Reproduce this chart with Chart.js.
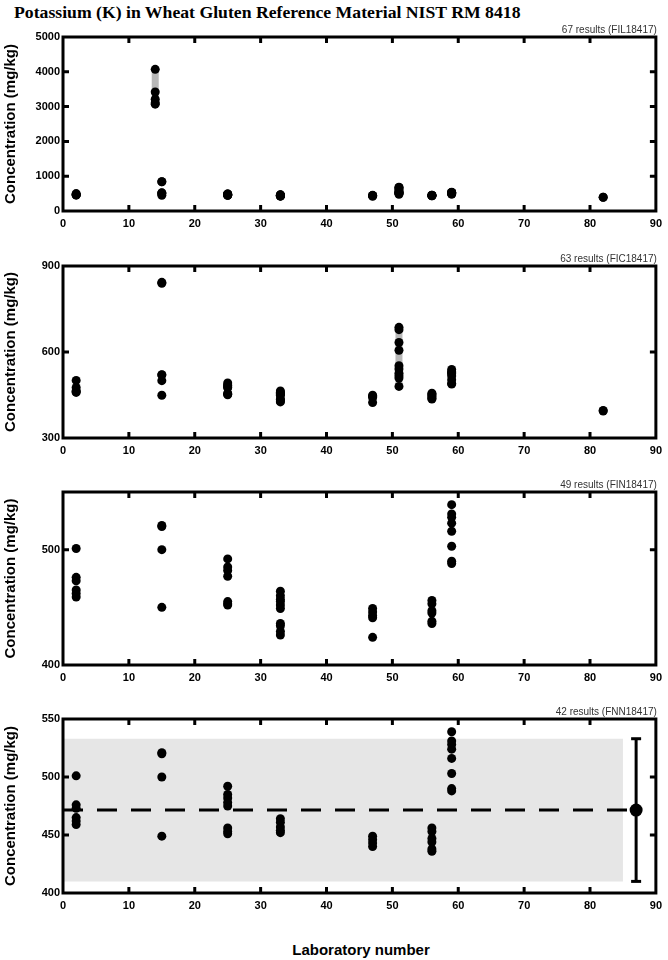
<!DOCTYPE html>
<html>
<head>
<meta charset="utf-8">
<script src="https://cdn.jsdelivr.net/npm/chart.js@4.4.1/dist/chart.umd.min.js"></script>
<style>
  body { margin: 0; background: #fff; }
  #page { position: relative; width: 668px; height: 960px; overflow: hidden; }
  canvas { position: absolute; left: 0; }
  .title { position: absolute; left: 14px; top: 2px; font: bold 17.7px "Liberation Serif", "Times New Roman", serif; color: #000; white-space: nowrap; }
  .xlabel { position: absolute; left: 63px; width: 596px; top: 941px; text-align: center; font: bold 15px "Liberation Sans", Arial, sans-serif; }
</style>
</head>
<body>
<div id="page">
  <div class="title">Potassium (K) in Wheat Gluten Reference Material NIST RM 8418</div>
  <canvas id="p1" width="668" height="232" style="top:7px"></canvas>
  <canvas id="p2" width="668" height="230" style="top:236px"></canvas>
  <canvas id="p3" width="668" height="231" style="top:462px"></canvas>
  <canvas id="p4" width="668" height="232" style="top:689px"></canvas>
  <div class="xlabel">Laboratory number</div>
</div>
<script>
// tick labels
const xTicks = [0, 10, 20, 30, 40, 50, 60, 70, 80, 90];
const yTicksFIL = [0, 1000, 2000, 3000, 4000, 5000];
const yTicksFIC = [300, 600, 900];
const yTicksFIN = [400, 500];
const yTicksFNN = [400, 450, 500, 550];

// results per laboratory (mg/kg)
const labsFIL = [2, 14, 15, 25, 33, 47, 51, 56, 59, 82];
const concFIL = [
  [501, 476, 465, 462, 459],
  [4070, 3420, 3210, 3110, 3070],
  [843, 840, 521, 520, 500, 449],
  [492, 485, 482, 478, 475, 456, 453, 451],
  [464, 460, 457, 455, 452, 449, 436, 434, 429, 426],
  [449, 446, 441, 424],
  [686, 678, 633, 606, 552, 541, 526, 517, 509, 480],
  [456, 453, 447, 444, 438, 436],
  [539, 531, 528, 524, 516, 503, 490, 488],
  [396, 394]
];

const labsFIC = [2, 15, 25, 33, 47, 51, 56, 59, 82];
const concFIC = [
  [501, 476, 465, 462, 459],
  [843, 840, 521, 520, 500, 449],
  [492, 485, 482, 478, 475, 456, 453, 451],
  [464, 460, 457, 455, 452, 449, 436, 434, 429, 426],
  [449, 446, 441, 424],
  [686, 678, 633, 606, 552, 541, 526, 517, 509, 480],
  [456, 453, 447, 444, 438, 436],
  [539, 531, 528, 524, 516, 503, 490, 488],
  [396, 394]
];

const labsFIN = [2, 15, 25, 33, 47, 56, 59];
const concFIN = [
  [501, 476, 473, 465, 462, 459],
  [521, 520, 500, 450],
  [492, 485, 482, 477, 455, 453, 452],
  [464, 460, 457, 455, 452, 449, 436, 434, 429, 426],
  [449, 446, 443, 441, 424],
  [456, 453, 447, 445, 438, 436],
  [539, 531, 528, 523, 516, 503, 490, 488]
];

const labsFNN = [2, 15, 25, 33, 47, 56, 59];
const concFNN = [
  [501, 476, 473, 465, 462, 459],
  [521, 520, 500, 449],
  [492, 485, 482, 478, 475, 456, 453, 451],
  [464, 461, 457, 454, 452],
  [449, 446, 443, 440],
  [456, 453, 447, 444, 438, 436],
  [539, 531, 528, 524, 516, 503, 490, 488]
];

// consensus value and interval (last panel)
const consensusMean = 471.5;
const consensusLow = 410;
const consensusHigh = 533;
const consensusLab = 87;
const bandStart = 0;
const bandEnd = 85;

Chart.defaults.font.family = '"Liberation Sans", Arial, sans-serif';
Chart.defaults.color = "#000";

function toPoints(labs, conc) {
  return labs.flatMap((lab, i) => conc[i].map((v) => ({ x: lab, y: v })));
}

function rangeOf(labs, conc, lab) {
  const v = conc[labs.indexOf(lab)];
  return [{ x: lab, y: Math.min(...v) }, { x: lab, y: Math.max(...v) }];
}

function dots(data) {
  return {
    type: "scatter",
    data: data,
    backgroundColor: "#000",
    borderWidth: 0,
    pointRadius: 4.5,
    order: 0,
  };
}

function grayBar(data) {
  return {
    type: "line",
    data: data,
    borderColor: "#b8b8b8",
    borderWidth: 7,
    borderCapStyle: "butt",
    pointRadius: 0,
    order: 5,
  };
}

// frame, inward ticks and the results note
const frameBox = {
  id: "frameBox",
  afterDraw(chart, args, opts) {
    const { ctx, chartArea: a, scales } = chart;
    ctx.save();
    ctx.strokeStyle = "#000";
    ctx.lineWidth = 3;
    ctx.strokeRect(a.left, a.top, a.right - a.left, a.bottom - a.top);
    ctx.beginPath();
    scales.x.ticks.forEach((t) => {
      const px = scales.x.getPixelForValue(t.value);
      if (px < a.left + 3 || px > a.right - 3) return;
      ctx.moveTo(px, a.top); ctx.lineTo(px, a.top + 6);
      ctx.moveTo(px, a.bottom); ctx.lineTo(px, a.bottom - 6);
    });
    scales.y.ticks.forEach((t) => {
      const py = scales.y.getPixelForValue(t.value);
      if (py < a.top + 3 || py > a.bottom - 3) return;
      ctx.moveTo(a.left, py); ctx.lineTo(a.left + 6, py);
      ctx.moveTo(a.right, py); ctx.lineTo(a.right - 6, py);
    });
    ctx.stroke();
    ctx.fillStyle = "#333";
    ctx.font = '10px "Liberation Sans", Arial, sans-serif';
    ctx.textAlign = "right";
    ctx.textBaseline = "bottom";
    ctx.fillText(opts.note, a.right + 1, a.top - 2);
    ctx.restore();
  },
};

function makePanel(id, datasets, yMin, yMax, yTicks, note) {
  const ctx = document.getElementById(id).getContext("2d");
  return new Chart(ctx, {
    data: { datasets: datasets },
    plugins: [frameBox],
    options: {
      responsive: false,
      animation: false,
      devicePixelRatio: 1,
      layout: { padding: { top: 30, right: 9, left: 0, bottom: 0 } },
      plugins: {
        legend: { display: false },
        tooltip: { enabled: false },
        frameBox: { note: note },
      },
      scales: {
        x: {
          type: "linear",
          min: 0,
          max: 90,
          afterBuildTicks: (s) => { s.ticks = xTicks.map((v) => ({ value: v })); },
          afterFit: (s) => { s.height = 28; },
          grid: { display: false, drawTicks: false },
          border: { display: false },
          ticks: { padding: 6, font: { size: 11, weight: "bold" }, color: "#000", callback: (v) => String(v) },
        },
        y: {
          type: "linear",
          min: yMin,
          max: yMax,
          afterBuildTicks: (s) => { s.ticks = yTicks.map((v) => ({ value: v })); },
          afterFit: (s) => { s.width = 63; },
          grid: { display: false, drawTicks: false },
          border: { display: false },
          ticks: { padding: 3, font: { size: 11, weight: "bold" }, color: "#000", callback: (v) => String(v) },
          title: {
            display: true,
            text: "Concentration (mg/kg)",
            font: { size: 15, weight: "bold" },
            color: "#000",
            padding: { top: 2, bottom: 0 },
          },
        },
      },
    },
  });
}

makePanel("p1", [
  dots(toPoints(labsFIL, concFIL)),
  grayBar(rangeOf(labsFIL, concFIL, 14)),
], 0, 5000, yTicksFIL, "67 results (FIL18417)");

makePanel("p2", [
  dots(toPoints(labsFIC, concFIC)),
  grayBar(rangeOf(labsFIC, concFIC, 51)),
], 300, 900, yTicksFIC, "63 results (FIC18417)");

makePanel("p3", [
  dots(toPoints(labsFIN, concFIN)),
], 400, 550, yTicksFIN, "49 results (FIN18417)");

makePanel("p4", [
  dots(toPoints(labsFNN, concFNN)),
  {
    type: "scatter",
    data: [{ x: consensusLab, y: consensusMean }],
    backgroundColor: "#000",
    borderWidth: 0,
    pointRadius: 6.5,
    order: 1,
  },
  {
    type: "line",
    data: [{ x: consensusLab, y: consensusLow }, { x: consensusLab, y: consensusHigh }],
    borderColor: "#000",
    borderWidth: 3,
    pointStyle: "line",
    pointRadius: 5,
    pointBorderWidth: 3,
    pointBorderColor: "#000",
    order: 2,
  },
  {
    type: "line",
    data: [{ x: bandStart, y: consensusMean }, { x: consensusLab, y: consensusMean }],
    borderColor: "#000",
    borderWidth: 3,
    borderDash: [20, 14],
    pointRadius: 0,
    order: 3,
  },
  {
    type: "line",
    data: [{ x: bandStart, y: consensusHigh }, { x: bandEnd, y: consensusHigh }],
    borderWidth: 0,
    borderColor: "rgba(0,0,0,0)",
    backgroundColor: "#e6e6e6",
    fill: { value: consensusLow },
    pointRadius: 0,
    order: 9,
  },
], 400, 550, yTicksFNN, "42 results (FNN18417)");
</script>
</body>
</html>
